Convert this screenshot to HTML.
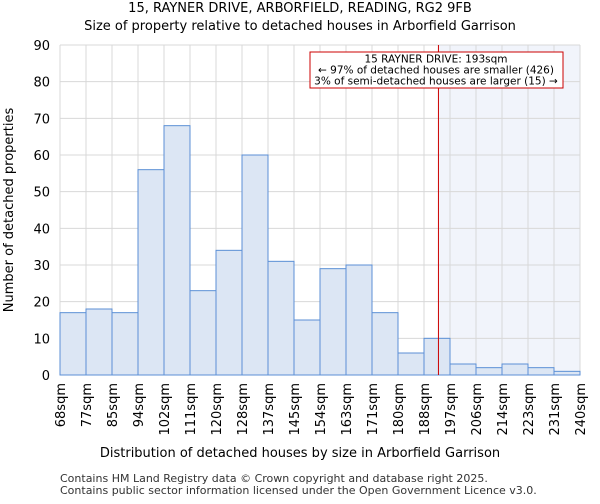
<!DOCTYPE html>
<html><head><meta charset="utf-8"><style>
body{margin:0;background:#fff;font-family:"DejaVu Sans","Liberation Sans",sans-serif}
text{font-family:"DejaVu Sans","Liberation Sans",sans-serif}
</style></head><body>
<svg id="chart" width="600" height="500" xmlns="http://www.w3.org/2000/svg">
<text x="300" y="12" font-size="13" text-anchor="middle">15, RAYNER DRIVE, ARBORFIELD, READING, RG2 9FB</text>
<text x="300" y="30" font-size="13" text-anchor="middle">Size of property relative to detached houses in Arborfield Garrison</text>
<g id="plot"></g>
<text x="300" y="457" font-size="13" text-anchor="middle">Distribution of detached houses by size in Arborfield Garrison</text>
<text transform="translate(13,210) rotate(-90)" font-size="13" text-anchor="middle">Number of detached properties</text>
<text x="60" y="482" font-size="11" fill="#333">Contains HM Land Registry data © Crown copyright and database right 2025.</text>
<text x="60" y="494" font-size="11" fill="#333">Contains public sector information licensed under the Open Government Licence v3.0.</text>
</svg>
<script>
const binLabels=["68sqm","77sqm","85sqm","94sqm","102sqm","111sqm","120sqm","128sqm","137sqm","145sqm","154sqm","163sqm","171sqm","180sqm","188sqm","197sqm","206sqm","214sqm","223sqm","231sqm","240sqm"];
const binEdges=[68,77,85,94,102,111,120,128,137,145,154,163,171,180,188,197,206,214,223,231,240];
const counts=[17,18,17,56,68,23,34,60,31,15,29,30,17,6,10,3,2,3,2,1];
const yTicks=[0,10,20,30,40,50,60,70,80,90];
const subjectSize=193;
const NS="http://www.w3.org/2000/svg";
const L=60,R=580,T=45,B=375,yMax=90;
const nb=counts.length;
const xi=i=>L+i*(R-L)/nb;
const xv=v=>{let i=0;while(i<nb-1&&v>binEdges[i+1])i++;return xi(i)+(v-binEdges[i])/(binEdges[i+1]-binEdges[i])*(R-L)/nb;};
const y=v=>B-v/yMax*(B-T);
const g=document.getElementById('plot');
function mk(t,a){const e=document.createElementNS(NS,t);for(const k in a)e.setAttribute(k,a[k]);g.appendChild(e);return e;}
const sx=xv(subjectSize);
let e=mk('rect',{x:sx,y:T,width:R-sx,height:B-T,fill:'#f1f4fb'});


yTicks.forEach(t=>{
 let l=mk('line',{x1:L,x2:R,y1:y(t),y2:y(t),stroke:'#d8d8d8'});
 
 
 let tx=mk('text',{x:L-10,y:y(t)+5,'font-size':13,'text-anchor':'end'});tx.textContent=t;
 
 
});
binLabels.forEach((lab,i)=>{
 let l=mk('line',{x1:xi(i),x2:xi(i),y1:T,y2:B,stroke:'#d8d8d8'});
 
 
 let tx=mk('text',{transform:`translate(${xi(i)+5},383) rotate(-90)`,'font-size':13,'text-anchor':'end'});tx.textContent=lab;
 
 
});
counts.forEach((c,i)=>{
 let r=mk('rect',{x:xi(i),y:y(c),width:xi(i+1)-xi(i),height:B-y(c),fill:'#dce6f4',stroke:'#5b8fd6','stroke-width':1});
 
 
});
e=mk('line',{x1:sx,x2:sx,y1:T,y2:B,stroke:'#cc0000','stroke-width':1});


e=mk('rect',{x:310,y:52,width:253,height:36,fill:'#fff',stroke:'#cc0000'});


["15 RAYNER DRIVE: 193sqm","← 97% of detached houses are smaller (426)","3% of semi-detached houses are larger (15) →"].forEach((s,i)=>{
 let t=mk('text',{x:436,y:62.5+i*11,'font-size':10.5,'text-anchor':'middle'});t.textContent=s;
 
 
});
</script>
</body></html>
